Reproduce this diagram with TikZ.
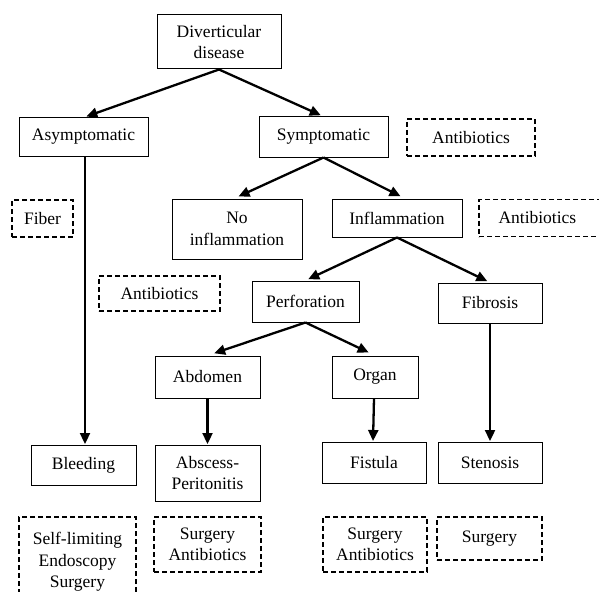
\documentclass[tikz,border=0pt]{standalone}
\usepackage{fontspec}
\setmainfont{Liberation Serif}
\usetikzlibrary{arrows.meta}
\begin{document}
\begin{tikzpicture}[x=1pt,y=-1pt,
  every node/.style={font=\fontsize{17.5}{21.5}\selectfont, align=center, inner sep=0pt},
  solidbox/.style={draw, line width=1pt, rectangle},
  dashbox/.style={draw, line width=1.9pt, rectangle, dash pattern=on 5pt off 3pt},
  conn/.style={line width=2.3pt, -{Triangle[length=11pt,width=10pt]}, shorten >=3pt}
]
\useasboundingbox (0,0) rectangle (599,591);
\clip (0,0) rectangle (599,591);
\fill[white] (0,0) rectangle (599,591);

\node[solidbox, minimum width=124pt, minimum height=54pt] (div) at (219,42) {Diverticular\\disease};
\node[solidbox, minimum width=129pt, minimum height=38pt] (asym) at (83.5,137) {Asymptomatic};
\node[solidbox, minimum width=129pt, minimum height=40pt] (sym) at (323.5,137) {Symptomatic};
\node[dashbox, minimum width=128pt, minimum height=37pt] (abA) at (471,137.5) {Antibiotics};
\node[dashbox, minimum width=61pt, minimum height=37pt] (fiber) at (42.5,218.5) {Fiber};
\node[solidbox, minimum width=130pt, minimum height=60pt] (noinf) at (237,229) {No\\inflammation};
\node[solidbox, minimum width=130pt, minimum height=38pt] (inf) at (397,218) {Inflammation};
\node[dashbox, minimum width=131pt, minimum height=37pt, text width=110pt, align=left] (abB) at (544.5,218) {\hspace*{9pt}Antibiotics};
\node[dashbox, minimum width=121pt, minimum height=35pt] (abC) at (159.5,293.5) {Antibiotics};
\node[solidbox, minimum width=107pt, minimum height=41pt] (perf) at (305.5,301.5) {Perforation};
\node[solidbox, minimum width=104pt, minimum height=40pt] (fib) at (490,303) {Fibrosis};
\node[solidbox, minimum width=105pt, minimum height=42pt] (abd) at (207.5,377) {Abdomen};
\node[solidbox, minimum width=86pt, minimum height=42pt] (org) at (375,377) {Organ};
\node[solidbox, minimum width=105pt, minimum height=40pt] (bleed) at (83.5,465) {Bleeding};
\node[solidbox, minimum width=105pt, minimum height=56pt] (absc) at (207.5,473) {Abscess-\\Peritonitis};
\node[solidbox, minimum width=104pt, minimum height=41pt] (fist) at (374,462.5) {Fistula};
\node[solidbox, minimum width=104pt, minimum height=41pt] (sten) at (490,462.5) {Stenosis};
\node[dashbox, minimum width=117pt, minimum height=86pt, text depth=0pt] (self) at (77.5,560) {Self-limiting\\Endoscopy\\Surgery};
\node[dashbox, minimum width=107pt, minimum height=55pt] (sa1) at (207.5,544.5) {Surgery\\Antibiotics};
\node[dashbox, minimum width=104pt, minimum height=55pt] (sa2) at (375,544.5) {Surgery\\Antibiotics};
\node[dashbox, minimum width=105pt, minimum height=43pt] (surg) at (489.5,538.5) {Surgery};

\draw[conn] (div.south) -- (asym.north);
\draw[conn] (div.south) -- (sym.north);
\draw[conn, shorten >=5pt] (sym.south) -- ([xshift=-3pt]noinf.north);
\draw[conn, shorten >=5pt] (sym.south) -- ([xshift=8pt]inf.north);
\draw[conn] (inf.south) -- (perf.north);
\draw[conn] (inf.south) -- (fib.north);
\draw[conn, shorten >=7pt] (perf.south) -- (abd.north);
\draw[conn, shorten >=7pt] (perf.south) -- (org.north);
\draw[conn, shorten >=0.5pt] (abd.south) -- (absc.north);
\draw[conn, shorten >=0.5pt] ([xshift=-1pt]org.south) -- ([xshift=-1pt]fist.north);
\draw[conn, shorten >=0.5pt] (fib.south) -- (sten.north);
\draw[conn, shorten >=0.5pt] ([xshift=1.5pt]asym.south) -- ([xshift=1.5pt]bleed.north);
\end{tikzpicture}
\end{document}
